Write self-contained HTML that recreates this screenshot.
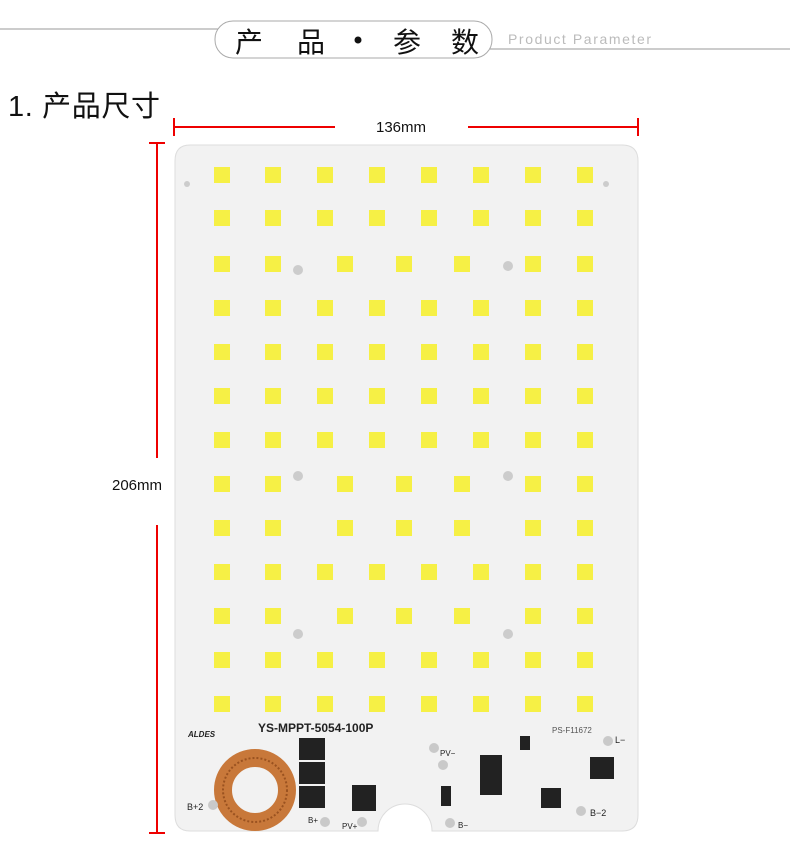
<!DOCTYPE html>
<html><head><meta charset="utf-8"><style>
html,body{margin:0;padding:0;background:#fff;width:790px;height:852px;overflow:hidden}
svg{display:block}
</style></head><body>
<svg width="790" height="852" viewBox="0 0 790 852" xmlns="http://www.w3.org/2000/svg">
<line x1="0" y1="29" x2="218" y2="29" stroke="#999" stroke-width="1"/>
<line x1="490" y1="49" x2="790" y2="49" stroke="#999" stroke-width="1"/>
<rect x="215" y="21" width="277" height="37" rx="18" fill="#fff" stroke="#aaa" stroke-width="1"/>
<text x="235" y="52" font-family="Liberation Sans,Noto Sans CJK SC,sans-serif" font-size="28" fill="#111">产</text>
<text x="297" y="52" font-family="Liberation Sans,Noto Sans CJK SC,sans-serif" font-size="28" fill="#111">品</text>
<circle cx="358" cy="40" r="3.5" fill="#111"/>
<text x="393" y="52" font-family="Liberation Sans,Noto Sans CJK SC,sans-serif" font-size="28" fill="#111">参</text>
<text x="451" y="52" font-family="Liberation Sans,Noto Sans CJK SC,sans-serif" font-size="28" fill="#111">数</text>
<text x="508" y="44" font-family="Liberation Sans,sans-serif" font-size="14" fill="#bbb" letter-spacing="1" textLength="144">Product Parameter</text>
<text x="8" y="116" font-family="Liberation Sans,Noto Sans CJK SC,sans-serif" font-size="29" fill="#111" textLength="152">1. 产品尺寸</text>
<g stroke="#e00" stroke-width="2">
<line x1="174" y1="127" x2="335" y2="127"/><line x1="468" y1="127" x2="638" y2="127"/>
<line x1="174" y1="118" x2="174" y2="136"/><line x1="638" y1="118" x2="638" y2="136"/>
<line x1="157" y1="143" x2="157" y2="458"/><line x1="157" y1="525" x2="157" y2="833"/>
<line x1="149" y1="143" x2="165" y2="143"/><line x1="149" y1="833" x2="165" y2="833"/>
</g>
<text x="401" y="132" text-anchor="middle" font-family="Liberation Sans,sans-serif" font-size="15" fill="#111">136mm</text>
<text x="137" y="490" text-anchor="middle" font-family="Liberation Sans,sans-serif" font-size="15" fill="#111">206mm</text>
<path d="M190 145 H622 Q638 145 638 161 V815 Q638 831 622 831 H432 A27 27 0 0 0 378 831 H190 Q175 831 175 815 V161 Q175 145 190 145 Z" fill="#f2f2f2" stroke="#ddd"/>
<g fill="#ccc"><circle cx="298" cy="270" r="5"/><circle cx="508" cy="266" r="5"/><circle cx="298" cy="476" r="5"/><circle cx="508" cy="476" r="5"/><circle cx="298" cy="634" r="5"/><circle cx="508" cy="634" r="5"/><circle cx="187" cy="184" r="3"/><circle cx="606" cy="184" r="3"/></g>
<g id="g2"></g>
<g font-family="Liberation Sans,sans-serif" fill="#222">
<text x="258" y="732" font-size="12" font-weight="bold">YS-MPPT-5054-100P</text>
<text x="188" y="737" font-size="8" font-style="italic" font-weight="bold">ALDES</text>
<text x="552" y="733" font-size="8" fill="#555">PS-F11672</text>
<text x="615" y="743" font-size="9">L−</text>
<text x="187" y="810" font-size="9">B+2</text>
<text x="590" y="816" font-size="9">B−2</text>
<text x="308" y="823" font-size="8">B+</text>
<text x="342" y="829" font-size="8">PV+</text>
<text x="440" y="756" font-size="8">PV−</text>
<text x="458" y="828" font-size="8">B−</text>
</g>
<g fill="#222">
<rect x="299" y="738" width="26" height="22"/><rect x="299" y="762" width="26" height="22"/><rect x="299" y="786" width="26" height="22"/>
<rect x="352" y="785" width="24" height="26"/>
<rect x="480" y="755" width="22" height="40"/>
<rect x="590" y="757" width="24" height="22"/>
<rect x="541" y="788" width="20" height="20"/>
<rect x="441" y="786" width="10" height="20"/>
<rect x="520" y="736" width="10" height="14"/>
</g>
<circle cx="255" cy="790" r="32" fill="none" stroke="#c8783a" stroke-width="18"/>
<circle cx="255" cy="790" r="32" fill="none" stroke="#9a5220" stroke-width="2" stroke-dasharray="2 2"/>
<g fill="#c9c9c9"><circle cx="213" cy="805" r="5"/><circle cx="325" cy="822" r="5"/><circle cx="362" cy="822" r="5"/><circle cx="450" cy="823" r="5"/><circle cx="581" cy="811" r="5"/><circle cx="608" cy="741" r="5"/><circle cx="434" cy="748" r="5"/><circle cx="443" cy="765" r="5"/></g>
</svg>
<script>
(function(){
var ns="http://www.w3.org/2000/svg",g=document.getElementById('g2');
var full=[222,273,325,377,429,481,533,585],alt=[222,273,345,404,462,533,585];
var rows=[175,218,264,308,352,396,440,484,528,572,616,660,704];
var altRows=[264,484,528,616];
rows.forEach(function(y){
 var xs=altRows.indexOf(y)>=0?alt:full;
 xs.forEach(function(x){var r=document.createElementNS(ns,'rect');
 r.setAttribute('x',x-8);r.setAttribute('y',y-8);r.setAttribute('width',16);r.setAttribute('height',16);
 r.setAttribute('fill','#f6f045');g.appendChild(r);});
});
})();
</script>
</body></html>
